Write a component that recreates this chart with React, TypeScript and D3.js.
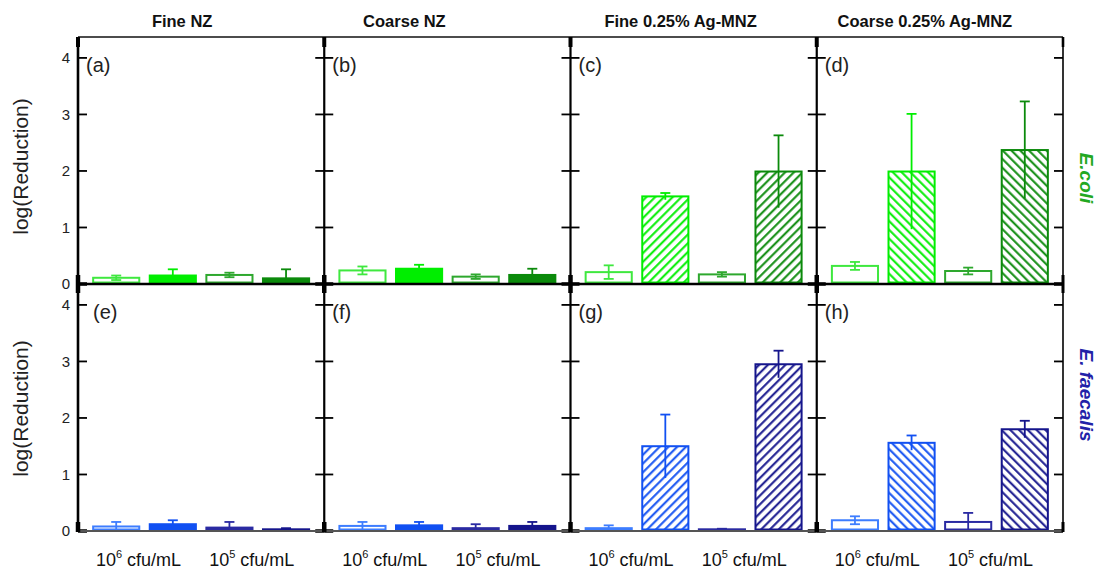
import * as d3 from "d3";

// panels, left to right
const panelTitles = ["Fine NZ", "Coarse NZ", "Fine 0.25% Ag-MNZ", "Coarse 0.25% Ag-MNZ"];
const panelLetters = [
  ["(a)", "(b)", "(c)", "(d)"],
  ["(e)", "(f)", "(g)", "(h)"],
];
const bacteria = ["E.coli", "E. faecalis"];
const barKeys = ["1e6-open", "1e6-fill", "1e5-open", "1e5-fill"];
const concLabels = ["6", "5"]; // 10^6 and 10^5 cfu/mL
const yTicks = [0, 1, 2, 3, 4];

// log(Reduction) per panel, 4 bars each
const ecoliMean = [
  [0.11, 0.15, 0.16, 0.10],
  [0.24, 0.27, 0.13, 0.16],
  [0.21, 1.55, 0.17, 1.99],
  [0.32, 1.99, 0.23, 2.37],
];
const ecoliErr = [
  [0.04, 0.11, 0.04, 0.16],
  [0.07, 0.07, 0.04, 0.11],
  [0.12, 0.06, 0.04, 0.64],
  [0.07, 1.02, 0.06, 0.86],
];
const faecalisMean = [
  [0.08, 0.12, 0.06, 0.03],
  [0.09, 0.10, 0.05, 0.09],
  [0.05, 1.50, 0.03, 2.95],
  [0.19, 1.56, 0.16, 1.80],
];
const faecalisErr = [
  [0.08, 0.07, 0.10, 0.02],
  [0.07, 0.06, 0.07, 0.07],
  [0.05, 0.56, 0.01, 0.24],
  [0.07, 0.13, 0.16, 0.15],
];

const greens = ["#3fe83f", "#00ee00", "#2ea82e", "#0b8a0b"];
const blues  = ["#3d7dff", "#1150f2", "#2a2aa2", "#15158c"];
const labelColors = ["#22a822", "#2222a8"];

const W = 1099, H = 569;
const LEFT = 78, RIGHT = 1063, TOP = 37, ROW_H = 247;
const Y_MAX = 4.37;
const TICK = 9;
const HATCH = 6.2;
const FONT = "Arial, 'Liberation Sans', Helvetica, sans-serif";
const titleShift = [-19, -43, -13, -15];

export default function App() {
  const colX = d3.range(5).map((i) => LEFT + (i * (RIGHT - LEFT)) / 4);
  const rows = [0, 1].map((r) =>
    d3.scaleLinear().domain([0, Y_MAX]).range([TOP + (r + 1) * ROW_H, TOP + r * ROW_H])
  );
  const means = [ecoliMean, faecalisMean];
  const errs = [ecoliErr, faecalisErr];
  const shades = [greens, blues];

  const patId = (r: number, k: number, dir: number) => `hatch-${r}-${k}-${dir}`;

  const defs: any[] = [];
  [0, 1].forEach((r) =>
    [1, 3].forEach((k) =>
      [0, 1].forEach((dir) => {
        defs.push(
          <pattern
            key={patId(r, k, dir)}
            id={patId(r, k, dir)}
            patternUnits="userSpaceOnUse"
            width={HATCH}
            height={HATCH}
            patternTransform={`rotate(${dir === 0 ? 45 : -45})`}
          >
            <rect width={HATCH} height={HATCH} fill="#fff" />
            <line x1={1.2} y1={0} x2={1.2} y2={HATCH} stroke={shades[r][k]} strokeWidth={2} />
          </pattern>
        );
      })
    )
  );

  const marks: any[] = [];
  const frame: any[] = [];
  const texts: any[] = [];

  [0, 1].forEach((r) => {
    const y = rows[r];
    const y0 = y(0);
    d3.range(4).forEach((c) => {
      const x = d3
        .scaleBand<string>()
        .domain(barKeys)
        .range([colX[c], colX[c + 1]])
        .paddingInner(0.15)
        .paddingOuter(0.25);
      barKeys.forEach((key, k) => {
        const m = means[r][c][k];
        const e = errs[r][c][k];
        const col = shades[r][k];
        const open = k % 2 === 0;
        const hatched = !open && c >= 2;
        const fill = open ? "#fff" : hatched ? `url(#${patId(r, k, c === 2 ? 0 : 1)})` : col;
        const bx = x(key)!;
        const bw = x.bandwidth();
        marks.push(
          <rect
            key={`b${r}${c}${k}`}
            x={bx + 1}
            y={y(m)}
            width={bw - 2}
            height={y0 - 1.5 - y(m)}
            fill={fill}
            stroke={col}
            strokeWidth={2}
          />
        );
        const cx = bx + bw / 2;
        const hi = y(m + e);
        const lo = y(Math.max(0, m - e));
        marks.push(
          <g key={`e${r}${c}${k}`} stroke={col} strokeWidth={1.8}>
            <line x1={cx} x2={cx} y1={hi} y2={lo} />
            <line x1={cx - 5} x2={cx + 5} y1={hi} y2={hi} />
            {open && <line x1={cx - 5} x2={cx + 5} y1={lo} y2={lo} />}
          </g>
        );
      });
      // panel letter
      texts.push(
        <text
          key={`l${r}${c}`}
          x={colX[c] + (r === 1 && c === 0 ? 15 : 8)}
          y={y(Y_MAX) + 35}
          fontSize={20}
          fill="#222"
        >
          {panelLetters[r][c]}
        </text>
      );
      // inward ticks both sides
      yTicks.forEach((t) => {
        const ty = y(t);
        const w = t === 0 ? 3.5 : 1.8;
        frame.push(
          <line key={`tl${r}${c}${t}`} x1={colX[c]} x2={colX[c] + TICK} y1={ty} y2={ty} stroke="#000" strokeWidth={w} />,
          <line key={`tr${r}${c}${t}`} x1={colX[c + 1] - TICK} x2={colX[c + 1]} y1={ty} y2={ty} stroke="#000" strokeWidth={w} />
        );
      });
      // x labels under bottom row
      if (r === 1) {
        [0, 1].forEach((p) => {
          const cx = (x(barKeys[p * 2])! + x(barKeys[p * 2 + 1])! + x.bandwidth()) / 2 - 6;
          texts.push(
            <text key={`x${c}${p}`} x={cx} y={566} fontSize={18} textAnchor="middle" fill="#111">
              10
              <tspan fontSize={11} dy={-8}>{concLabels[p]}</tspan>
              <tspan dy={8}> cfu/mL</tspan>
            </text>
          );
        });
      }
    });

    // y tick labels + axis title for leftmost panels
    yTicks.forEach((t) =>
      texts.push(
        <text key={`yt${r}${t}`} x={70} y={y(t)} dy="0.36em" fontSize={15} textAnchor="end" fill="#222">
          {t}
        </text>
      )
    );
    texts.push(
      <text
        key={`ya${r}`}
        transform={`translate(28,${(y(0) + y(Y_MAX)) / 2 + (r === 0 ? 6 : 1)}) rotate(-90)`}
        fontSize={21}
        textAnchor="middle"
        fill="#222"
      >
        log(Reduction)
      </text>
    );
    texts.push(
      <text
        key={`bac${r}`}
        transform={`translate(1080,${r === 0 ? 178 : 395}) rotate(90)`}
        fontSize={19}
        fontWeight="bold"
        fontStyle="italic"
        textAnchor="middle"
        fill={labelColors[r]}
      >
        {bacteria[r]}
      </text>
    );

    // zero line
    frame.push(
      <line
        key={`z${r}`}
        x1={LEFT}
        x2={RIGHT}
        y1={y0}
        y2={y0}
        stroke={r === 0 ? "#000" : "#555"}
        strokeWidth={r === 0 ? 2.6 : 2.2}
      />
    );
    // heavy crosses on panel boundaries at zero
    colX.forEach((cx, i) =>
      frame.push(
        <line
          key={`cr${r}${i}`}
          x1={cx}
          x2={cx}
          y1={y0 - 9}
          y2={y0 + (r === 0 ? 9 : 1)}
          stroke="#000"
          strokeWidth={i === 4 ? 3 : 4.5}
        />
      )
    );
  });

  // top border and vertical separators
  frame.push(<line key="top" x1={LEFT} x2={RIGHT} y1={TOP} y2={TOP} stroke="#111" strokeWidth={1.6} />);
  colX.forEach((cx, i) => {
    frame.push(
      <line
        key={`v${i}`}
        x1={cx}
        x2={cx}
        y1={TOP}
        y2={TOP + 2 * ROW_H}
        stroke="#000"
        strokeWidth={i === 0 ? 2.6 : i === 4 ? 1.6 : 2.2}
      />,
      <line key={`vt${i}`} x1={cx} x2={cx} y1={TOP} y2={TOP + 10} stroke="#000" strokeWidth={i === 4 ? 2.6 : 4} />
    );
  });

  // titles
  panelTitles.forEach((t, c) =>
    texts.push(
      <text
        key={`t${c}`}
        x={(colX[c] + colX[c + 1]) / 2 + titleShift[c]}
        y={27}
        fontSize={16.5}
        fontWeight="bold"
        textAnchor="middle"
        fill="#111"
      >
        {t}
      </text>
    )
  );

  return (
    <svg
      width={W}
      height={H}
      style={{ position: "absolute", left: 0, top: 0, background: "#fff" }}
      fontFamily={FONT}
    >
      <defs>{defs}</defs>
      <rect width={W} height={H} fill="#fff" />
      {marks}
      {frame}
      {texts}
    </svg>
  );
}
